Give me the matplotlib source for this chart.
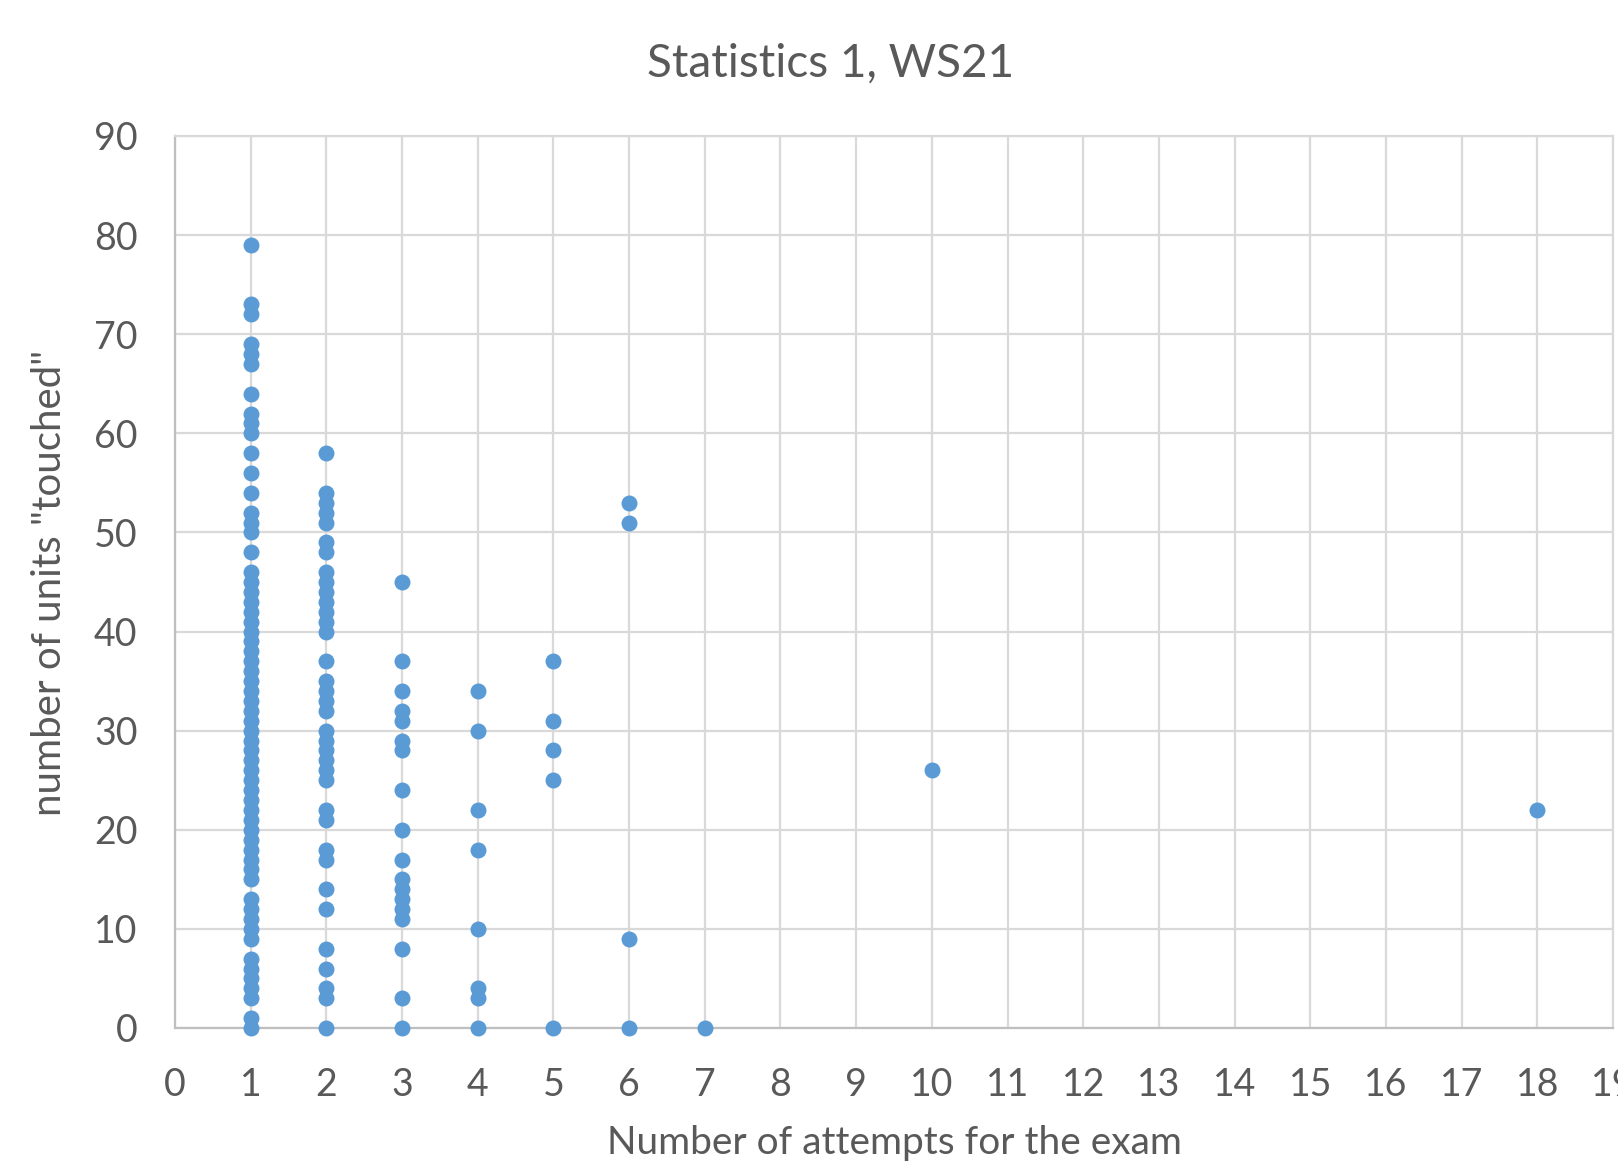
import matplotlib
matplotlib.use("Agg")
import matplotlib.pyplot as plt

# ---- data ----
units_1 = [0, 1, 3, 4, 5, 6, 7, 9, 10, 11, 12, 13, 15, 16, 17, 18, 19, 20, 21, 22,
           23, 24, 25, 26, 27, 28, 29, 30, 31, 32, 33, 34, 35, 36, 37, 38, 39, 40,
           41, 42, 43, 44, 45, 46, 48, 50, 51, 52, 54, 56, 58, 60, 61, 62, 64, 67,
           68, 69, 72, 73, 79]
units_2 = [0, 3, 4, 6, 8, 12, 14, 17, 18, 21, 22, 25, 26, 27, 28, 29, 30, 32, 33,
           34, 35, 37, 40, 41, 42, 43, 44, 45, 46, 48, 49, 51, 52, 53, 54, 58]
units_3 = [0, 3, 8, 11, 12, 13, 14, 15, 17, 20, 24, 28, 29, 31, 32, 34, 37, 45]
units_4 = [0, 3, 4, 10, 18, 22, 30, 34]
units_5 = [0, 25, 28, 31, 37]
units_6 = [0, 9, 51, 53]
units_7 = [0]
units_10 = [26]
units_18 = [22]

groups = {1: units_1, 2: units_2, 3: units_3, 4: units_4, 5: units_5,
          6: units_6, 7: units_7, 10: units_10, 18: units_18}

attempts = []
units = []
for k, v in groups.items():
    attempts += [k] * len(v)
    units += v

x_ticks = list(range(0, 20))
y_ticks = list(range(0, 100, 10))

title = "Statistics 1, WS21"
xlabel = "Number of attempts for the exam"
ylabel = 'number of units "touched"'

# ---- styling ----
plt.rcParams['font.family'] = ['Lato', 'DejaVu Sans']
TEXT = "#595959"
GRID = "#D9D9D9"
AXIS = "#BFBFBF"
BLUE = "#5B9BD5"

W, H = 1618, 1170
fig = plt.figure(figsize=(W / 100, H / 100), dpi=100)
ax = fig.add_axes([175 / W, 1 - 1028 / H, (1613 - 175) / W, (1028 - 136) / H])

ax.plot(attempts, units, linestyle="none", marker="o", markersize=11.5,
        color=BLUE, markeredgewidth=0, clip_on=False, zorder=3)

ax.set_xlim(0, 19)
ax.set_ylim(0, 90)
ax.set_xticks(x_ticks)
ax.set_yticks(y_ticks)
ax.tick_params(axis="both", length=0, labelsize=27, labelcolor=TEXT)
ax.tick_params(axis="y", pad=27)
ax.tick_params(axis="x", pad=28)

ax.grid(True, color=GRID, linewidth=1.6, zorder=0)
ax.set_axisbelow(True)
for s in ["top", "right"]:
    ax.spines[s].set_color(GRID)
    ax.spines[s].set_linewidth(1.6)
for s in ["left", "bottom"]:
    ax.spines[s].set_color(AXIS)
    ax.spines[s].set_linewidth(1.6)

fig.text(831 / W, 1 - 64 / H, title, ha="center", va="center",
         fontsize=33, color=TEXT)
fig.text(894 / W, 1 - 1143 / H, xlabel, ha="center", va="center",
         fontsize=28, color=TEXT)
fig.text(50 / W, 1 - 583 / H, ylabel, ha="center", va="center",
         rotation=90, fontsize=29, color=TEXT)

fig.savefig("out.png", dpi=100)
